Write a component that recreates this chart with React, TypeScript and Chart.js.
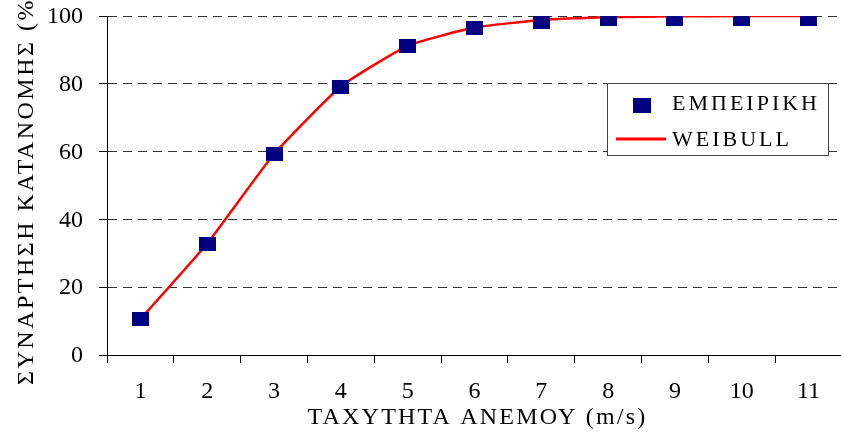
import React, { useEffect, useRef } from 'react';
import { Chart, registerables } from 'chart.js';

Chart.register(...registerables);

const categories = ['1', '2', '3', '4', '5', '6', '7', '8', '9', '10', '11'];
const empirical = [10.5, 32.7, 59.2, 79.0, 91.1, 96.4, 98.3, 99.0, 99.2, 99.2, 99.2];
const weibull = [10.6, 32.9, 59.3, 79.2, 91.2, 96.6, 98.8, 99.6, 99.9, 100, 100];
const yTickValues = [0, 20, 40, 60, 80, 100];
const seriesNames = ['ΕΜΠΕΙΡΙΚΗ', 'WEIBULL'];
const xTitle = 'ΤΑΧΥΤΗΤΑ ΑΝΕΜΟΥ (m/s)';
const yTitle = 'ΣΥΝΑΡΤΗΣΗ ΚΑΤΑΝΟΜΗΣ (%)';

const FONT = 'Liberation Serif';
const NAVY = '#000080';
const RED = '#FF0000';

function makeSquare(w: number, h: number, color: string) {
  const c = document.createElement('canvas');
  c.width = w;
  c.height = h;
  const g = c.getContext('2d')!;
  g.fillStyle = color;
  g.fillRect(0, 0, w, h);
  return c;
}

const overlayPlugin = {
  id: 'overlay',
  afterDraw(chart: any) {
    const ctx = chart.ctx as CanvasRenderingContext2D & { letterSpacing: string };
    const area = chart.chartArea;
    const yScale = chart.scales.y;
    ctx.save();
    ctx.fillStyle = '#000';

    // y tick labels
    ctx.font = `24px "${FONT}"`;
    ctx.letterSpacing = '0px';
    ctx.textAlign = 'right';
    ctx.textBaseline = 'middle';
    yTickValues.forEach((v) => {
      ctx.fillText(String(v), 83, yScale.getPixelForValue(v) + 1);
    });

    // axis titles
    ctx.font = `24px "${FONT}"`;
    ctx.letterSpacing = '2.2px';
    ctx.textAlign = 'center';
    ctx.textBaseline = 'alphabetic';
    ctx.fillText(xTitle, (area.left + area.right) / 2 + 3, 424);

    ctx.save();
    ctx.translate(33, 385);
    ctx.rotate(-Math.PI / 2);
    ctx.textAlign = 'left';
    ctx.letterSpacing = '2.5px';
    ctx.fillText(yTitle, 0, 0);
    ctx.restore();

    // legend
    ctx.fillStyle = '#fff';
    ctx.fillRect(607.5, 83.5, 221, 72);
    ctx.strokeStyle = '#444';
    ctx.lineWidth = 1;
    ctx.strokeRect(607.5, 83.5, 221, 72);
    ctx.fillStyle = NAVY;
    ctx.fillRect(633, 98, 18, 15);
    ctx.strokeStyle = RED;
    ctx.lineWidth = 3;
    ctx.beginPath();
    ctx.moveTo(616, 139);
    ctx.lineTo(666, 139);
    ctx.stroke();
    ctx.fillStyle = '#000';
    ctx.font = `22px "${FONT}"`;
    ctx.letterSpacing = '3px';
    ctx.textAlign = 'left';
    ctx.fillText(seriesNames[0], 672, 110);
    ctx.fillText(seriesNames[1], 672, 146);
    ctx.restore();
    ctx.letterSpacing = '0px';
  },
};

export default function App() {
  const ref = useRef<HTMLCanvasElement>(null);
  useEffect(() => {
    document.body.style.margin = '0';
    document.body.style.overflow = 'hidden';
    const square = makeSquare(17, 14, NAVY);
    const tickFont = { family: FONT, size: 24 };
    const chart = new Chart(ref.current!, {
      type: 'line',
      data: {
        labels: categories,
        datasets: [
          {
            label: seriesNames[0],
            data: empirical,
            showLine: false,
            pointStyle: square as any,
            pointRadius: 9,
            pointHoverRadius: 9,
            borderColor: NAVY,
            backgroundColor: NAVY,
            order: 0,
          },
          {
            label: seriesNames[1],
            data: weibull,
            borderColor: RED,
            backgroundColor: RED,
            borderWidth: 2.5,
            pointRadius: 0,
            pointHoverRadius: 0,
            tension: 0.15,
            order: 1,
          },
        ],
      },
      options: {
        responsive: false,
        animation: false,
        events: [],
        layout: { padding: { left: 0, right: 8, top: 16, bottom: 0 } },
        plugins: { legend: { display: false }, tooltip: { enabled: false } },
        scales: {
          x: {
            type: 'category',
            offset: true,
            grid: {
              offset: true,
              drawOnChartArea: false,
              drawTicks: true,
              tickLength: 8,
              tickColor: '#000',
              tickWidth: 1,
            },
            border: { color: '#000', width: 1 },
            ticks: { font: tickFont, color: '#000', padding: 14, maxRotation: 0, autoSkip: false },
            afterFit: (s: any) => {
              s.height = 81;
              s.paddingLeft = 0;
              s.paddingRight = 0;
            },
          },
          y: {
            min: 0,
            max: 100,
            afterBuildTicks: (s: any) => {
              s.ticks = yTickValues.map((v) => ({ value: v }));
            },
            ticks: { display: false, padding: 0 },
            grid: {
              color: (c: any) => (c.tick && c.tick.value === 0 ? 'rgba(0,0,0,0)' : '#333'),
              tickColor: '#000',
              tickLength: 8,
              lineWidth: 1,
            },
            border: { color: '#000', width: 1, dash: [9, 6] },
            afterFit: (s: any) => {
              s.width = 107;
              s.paddingTop = 0;
              s.paddingBottom = 0;
            },
          },
        },
      },
      plugins: [overlayPlugin],
    });
    return () => chart.destroy();
  }, []);
  return (
    <div style={{ position: 'fixed', left: 0, top: 0, width: 852, height: 436 }}>
      <canvas ref={ref} width={852} height={436} style={{ display: 'block', width: 852, height: 436 }} />
    </div>
  );
}
